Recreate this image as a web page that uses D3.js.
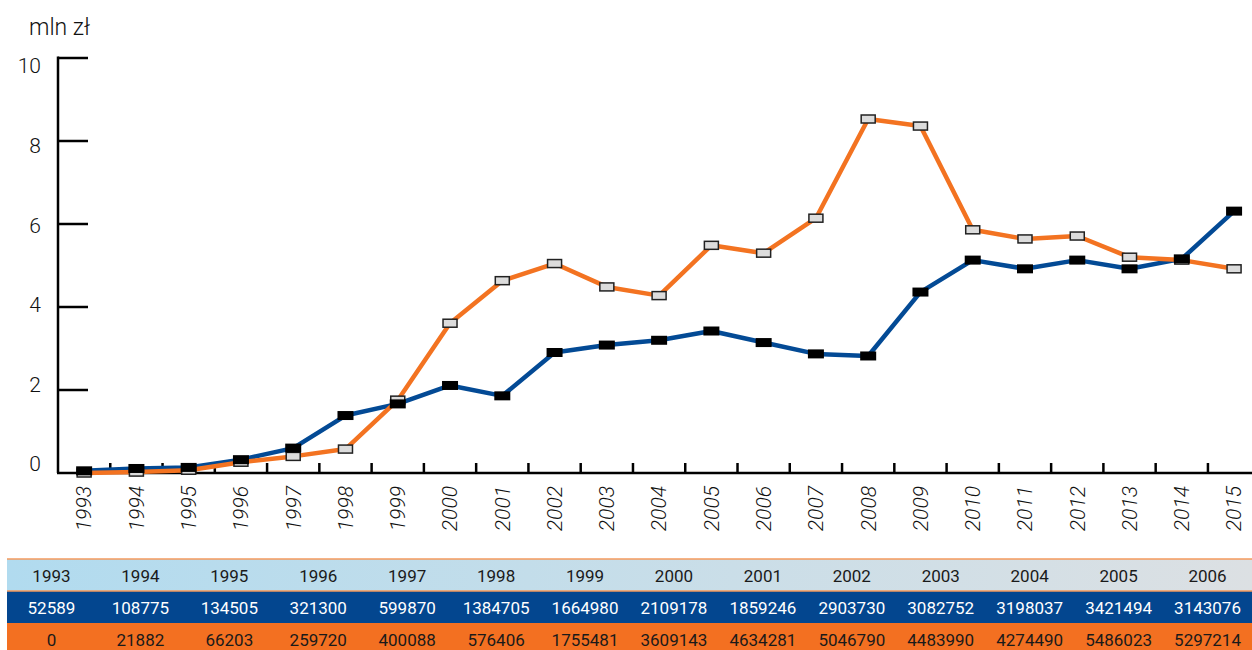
<!DOCTYPE html>
<html lang="pl">
<head>
<meta charset="UTF-8">
<title>mln zł 1993-2015</title>
<script src="https://d3js.org/d3.v7.min.js"></script>
<style>
    body { margin: 0; background: #fff; }
    svg { display: block; font-family: Roboto, "DejaVu Sans", sans-serif; font-weight: 300; }
    .ylab { font-size: 21px; fill: #111; }
    .xlab { font-size: 21px; font-style: italic; fill: #111; }
    .cell { font-size: 17px; text-anchor: middle; font-weight: 400; }
</style>
</head>
<body>
<div id="chart"></div>
<script>
    // lata (kategorie)
    const years = ["1993","1994","1995","1996","1997","1998","1999","2000","2001","2002","2003","2004",
                   "2005","2006","2007","2008","2009","2010","2011","2012","2013","2014","2015"];
    // seria niebieska, zł (1993-2006 z tabeli, reszta)
    const blueValues = [52589, 108775, 134505, 321300, 599870, 1384705, 1664980, 2109178, 1859246,
                        2903730, 3082752, 3198037, 3421494, 3143076,
                        2870000, 2820000, 4360000, 5130000, 4920000, 5130000, 4920000, 5160000, 6310000];
    // seria pomarańczowa, zł
    const orangeValues = [0, 21882, 66203, 259720, 400088, 576406, 1755481, 3609143, 4634281,
                          5046790, 4483990, 4274490, 5486023, 5297214,
                          6140000, 8530000, 8360000, 5860000, 5640000, 5710000, 5200000, 5130000, 4920000];
    const yTicks = [0, 2, 4, 6, 8, 10];
    const tableYears = years.slice(0, 14);

    const W = 1252, H = 650;
    const blue = "#034a95", orange = "#f37321";

    const svg = d3.select("#chart").append("svg")
        .attr("width", W).attr("height", H);

    const x = d3.scaleBand().domain(years).range([58, 58 + 23 * 52.27]);
    const y = d3.scaleLinear().domain([0, 10]).range([473, 58]);
    // etykiety osi Y są rozstawione nieco inaczej niż kreski
    const yLabel = d3.scaleLinear().domain([0, 10]).range([464, 66]);
    const cx = d => x(d) + x.bandwidth() / 2;

    // tytuł jednostki
    svg.append("text").attr("x", 29).attr("y", 35)
        .style("font-size", "23px").attr("fill", "#111").text("mln zł");

    // oś Y
    svg.append("line").attr("x1", 58).attr("x2", 58).attr("y1", y(10) - 1.5).attr("y2", y(0))
        .attr("stroke", "#000").attr("stroke-width", 2.5);
    svg.selectAll(".ytick").data(yTicks.filter(d => d > 0)).enter().append("line")
        .attr("x1", 58).attr("x2", 88)
        .attr("y1", d => y(d)).attr("y2", d => y(d))
        .attr("stroke", "#000").attr("stroke-width", 2.5);
    svg.selectAll(".ylab").data(yTicks).enter().append("text")
        .attr("class", "ylab")
        .attr("x", 41).attr("y", d => yLabel(d)).attr("dy", "0.35em")
        .attr("text-anchor", "end")
        .text(d => d);

    // oś X
    svg.append("line").attr("x1", 57).attr("x2", W).attr("y1", y(0)).attr("y2", y(0))
        .attr("stroke", "#000").attr("stroke-width", 2.5);
    svg.selectAll(".xtick").data(years.slice(1)).enter().append("line")
        .attr("x1", d => x(d)).attr("x2", d => x(d))
        .attr("y1", y(0)).attr("y2", y(0) - 10)
        .attr("stroke", "#000").attr("stroke-width", 2.5);
    svg.selectAll(".xlab").data(years).enter().append("text")
        .attr("class", "xlab")
        .attr("transform", d => `translate(${cx(d)},486) rotate(-90)`)
        .attr("text-anchor", "end")
        .attr("dy", "0.35em")
        .text(d => d);

    // linie
    const blueData = years.map((yr, i) => ({ year: yr, v: blueValues[i] / 1e6 }));
    const orangeData = years.map((yr, i) => ({ year: yr, v: orangeValues[i] / 1e6 }));
    const line = d3.line().x(d => cx(d.year)).y(d => y(d.v));

    svg.append("path").datum(blueData).attr("d", line)
        .attr("fill", "none").attr("stroke", blue).attr("stroke-width", 4.5)
        .attr("stroke-linejoin", "round");
    svg.append("path").datum(orangeData).attr("d", line)
        .attr("fill", "none").attr("stroke", orange).attr("stroke-width", 4.5)
        .attr("stroke-linejoin", "round");

    // znaczniki
    svg.selectAll(".mo").data(orangeData).enter().append("rect")
        .attr("x", d => cx(d.year) - 7).attr("y", d => y(d.v) - 4)
        .attr("width", 14).attr("height", 8)
        .attr("fill", "#dcdcdc").attr("stroke", "#222").attr("stroke-width", 1.5);
    svg.selectAll(".mb").data(blueData).enter().append("rect")
        .attr("x", d => cx(d.year) - 8).attr("y", d => y(d.v) - 4.5)
        .attr("width", 16).attr("height", 9)
        .attr("fill", "#000");

    // tabela
    const tx = d3.scaleBand().domain(tableYears).range([7, W]);
    const defs = svg.append("defs");
    const grad = defs.append("linearGradient").attr("id", "hdr")
        .attr("x1", "0%").attr("x2", "100%");
    grad.append("stop").attr("offset", "0%").attr("stop-color", "#b1dbef");
    grad.append("stop").attr("offset", "100%").attr("stop-color", "#dce0e3");

    const rows = [
        { top: 559, h: 32, fill: "url(#hdr)", color: "#1a1a1a", vals: tableYears },
        { top: 591, h: 32, fill: "#03468f", color: "#fff", vals: blueValues.slice(0, 14) },
        { top: 623, h: 32, fill: "#f37021", color: "#1a1a1a", vals: orangeValues.slice(0, 14) }
    ];
    rows.forEach(r => {
        svg.append("rect").attr("x", 7).attr("y", r.top).attr("width", W - 7).attr("height", r.h)
            .attr("fill", r.fill);
        svg.selectAll(null).data(tableYears).enter().append("text")
            .attr("class", "cell")
            .attr("x", d => tx(d) + tx.bandwidth() / 2)
            .attr("y", r.top + r.h / 2 + 1).attr("dy", "0.35em")
            .attr("fill", r.color)
            .text((d, i) => r.vals[i]);
    });
    // cienkie pomarańczowe linie
    [559, 591].forEach(yy => {
        svg.append("line").attr("x1", 7).attr("x2", W).attr("y1", yy).attr("y2", yy)
            .attr("stroke", "#f59a5c").attr("stroke-width", 1.5);
    });
</script>
</body>
</html>
